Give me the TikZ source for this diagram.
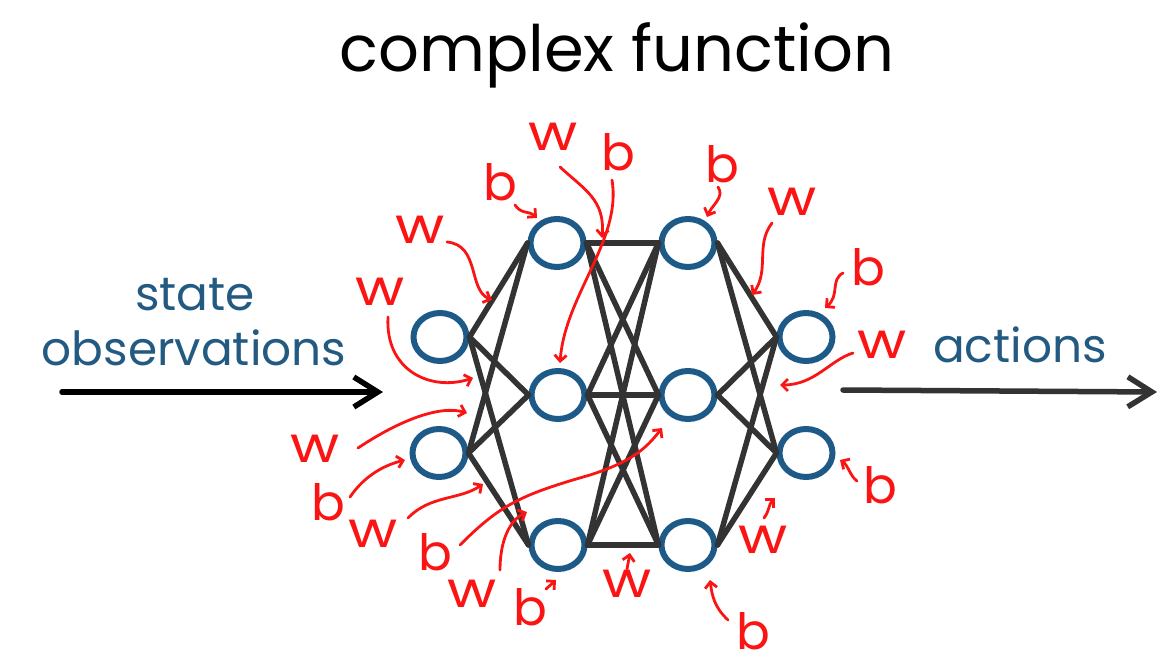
\documentclass[tikz,border=0pt]{standalone}
\usepackage{fontspec}
\setmainfont{Poppins}
\usetikzlibrary{arrows.meta,shapes.geometric}
\definecolor{nodeblue}{RGB}{30,90,135}
\definecolor{textblue}{RGB}{35,90,130}
\definecolor{linegray}{RGB}{51,51,51}
\definecolor{lblred}{RGB}{250,20,20}
\tikzset{
  neuron/.style={ellipse, draw=nodeblue, line width=6pt, minimum width=53pt, minimum height=48pt, inner sep=0pt},
  conn/.style={draw=linegray, line width=5.5pt, line cap=round},
  redarrow/.style={draw=lblred, line width=2.8pt, line cap=round, -{Straight Barb[length=6pt,width=12pt]}},
  lbl/.style={text=lblred, font=\fontsize{50}{50}\selectfont, inner sep=0pt, anchor=base},
  bluetext/.style={text=textblue, font=\fontsize{47}{47}\selectfont, inner sep=0pt, anchor=base},
  bigarrow/.style={line width=5.5pt, line cap=round, -{Straight Barb[length=24pt,width=30pt]}}
}
\newcommand{\ww}{\scalebox{1.2}[1]{w}}
\begin{document}
\begin{tikzpicture}[x=1pt,y=-1pt]
\useasboundingbox (0,0) rectangle (1162,669);
% title
\node[inner sep=0pt, anchor=base, font=\fontsize{64}{64}\selectfont] (title) at (617,72) {complex function};
% neurons
\node[neuron] (I1) at (440,337) {};
\node[neuron] (I2) at (439,453) {};
\node[neuron] (A1) at (557,243) {};
\node[neuron] (A2) at (558,395) {};
\node[neuron] (A3) at (558,545) {};
\node[neuron] (B1) at (688,243) {};
\node[neuron] (B2) at (688,395) {};
\node[neuron] (B3) at (688,545) {};
\node[neuron] (O1) at (806,337) {};
\node[neuron] (O2) at (806,453) {};
% connections
\foreach \a in {I1,I2}{\foreach \b in {A1,A2,A3}{\draw[conn] (\a.east) -- (\b.west);}}
\foreach \a in {A1,A2,A3}{\foreach \b in {B1,B2,B3}{\draw[conn] (\a.east) -- (\b.west);}}
\foreach \a in {B1,B2,B3}{\foreach \b in {O1,O2}{\draw[conn] (\a.east) -- (\b.west);}}
% side texts and arrows
\node[bluetext] (state) at (195,310) {state};
\node[bluetext] (obs) at (194,365) {observations};
\node[bluetext] (act) at (1020,362) {actions};
\coordinate (inL) at (62,392);
\coordinate (inR) at (383,392);
\coordinate (outL) at (843,390);
\coordinate (outR) at (1157,392);
\draw[bigarrow, draw=black] (inL) -- (inR);
\draw[bigarrow, draw=linegray] (outL) -- (outR);
% red labels
\node[lbl] (l1) at (420,243) {\ww};
\node[lbl] (l2) at (500,200) {b};
\node[lbl] (l3) at (553,150) {\ww};
\node[lbl] (l4) at (618,170) {b};
\node[lbl] (l5) at (380,305) {\ww};
\node[lbl] (l6) at (315,462) {\ww};
\node[lbl] (l7) at (328,520) {b};
\node[lbl] (l8) at (373,547) {\ww};
\node[lbl] (l9) at (435,570) {b};
\node[lbl] (l10) at (472,607) {\ww};
\node[lbl] (l11) at (530,625) {b};
\node[lbl] (l12) at (627,597) {\ww};
\node[lbl] (l13) at (722,182) {b};
\node[lbl] (l14) at (792,215) {\ww};
\node[lbl] (l15) at (868,285) {b};
\node[lbl] (l16) at (882,358) {\ww};
\node[lbl] (l17) at (880,503) {b};
\node[lbl] (l18) at (763,553) {\ww};
\node[lbl] (l19) at (753,649) {b};
% red arrow endpoints
\coordinate (s1) at (447,242);  \coordinate (e1) at (492,300);
\coordinate (s2) at (515,205);  \coordinate (e2) at (537,218);
\coordinate (s3) at (560,167);  \coordinate (e3) at (602,238);
\coordinate (s4) at (612,180);  \coordinate (e4) at (560,363);
\coordinate (s5) at (388,317);  \coordinate (e5) at (473,378);
\coordinate (s6) at (358,448);  \coordinate (e6) at (467,413);
\coordinate (s7) at (350,497);  \coordinate (e7) at (405,460);
\coordinate (s8) at (408,518);  \coordinate (e8) at (483,484);
\coordinate (s9) at (460,545);  \coordinate (e9) at (662,428);
\coordinate (s10) at (500,570); \coordinate (e10) at (527,512);
\coordinate (s11) at (546,589); \coordinate (e11) at (556,580);
\coordinate (s12) at (627,569); \coordinate (e12) at (630,553);
\coordinate (s13) at (718,187); \coordinate (e13) at (707,217);
\coordinate (s14) at (772,223); \coordinate (e14) at (752,295);
\coordinate (s15) at (843,273); \coordinate (e15) at (825,308);
\coordinate (s16) at (853,353); \coordinate (e16) at (780,385);
\coordinate (s17) at (857,481); \coordinate (e17) at (840,460);
\coordinate (s18) at (764,518); \coordinate (e18) at (775,498);
\coordinate (s19) at (728,620); \coordinate (e19) at (710,580);
% red arrows
\draw[redarrow] (s1) .. controls (480,245) and (468,290) .. (e1);
\draw[redarrow] (s2) .. controls (522,215) and (528,210) .. (e2);
\draw[redarrow] (s3) .. controls (585,190) and (605,200) .. (e3);
\draw[redarrow] (s4) .. controls (622,240) and (565,295) .. (e4);
\draw[redarrow] (s5) .. controls (385,370) and (430,392) .. (e5);
\draw[redarrow] (s6) .. controls (400,420) and (440,405) .. (e6);
\draw[redarrow] (s7) .. controls (365,475) and (385,465) .. (e7);
\draw[redarrow] (s8) .. controls (430,495) and (460,500) .. (e8);
\draw[redarrow] (s9) .. controls (500,505) and (520,495) .. (590,475) .. controls (630,462) and (645,450) .. (e9);
\draw[redarrow] (s10) .. controls (500,540) and (510,520) .. (e10);
\draw[redarrow] (s11) -- (e11);
\draw[redarrow] (s12) -- (e12);
\draw[redarrow] (s13) .. controls (725,197) and (712,205) .. (e13);
\draw[redarrow] (s14) .. controls (755,245) and (770,270) .. (e14);
\draw[redarrow] (s15) .. controls (830,280) and (840,295) .. (e15);
\draw[redarrow] (s16) .. controls (830,360) and (815,385) .. (e16);
\draw[redarrow] (s17) .. controls (850,476) and (848,465) .. (e17);
\draw[redarrow] (s18) .. controls (770,510) and (768,505) .. (e18);
\draw[redarrow] (s19) .. controls (714,607) and (712,595) .. (e19);
\end{tikzpicture}
\end{document}
